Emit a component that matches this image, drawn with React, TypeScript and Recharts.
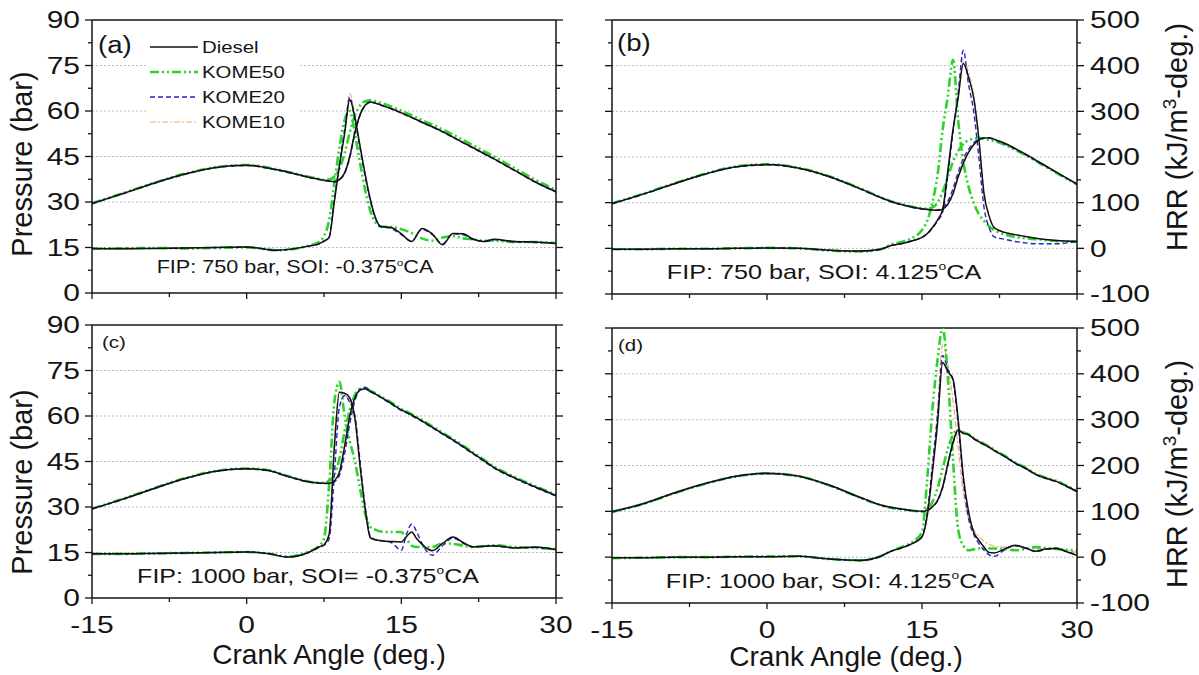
import React from "react";
import { LineChart, Line, XAxis, YAxis, ReferenceLine, Legend } from "recharts";

const FONT = '"Liberation Sans", Arial, Helvetica, sans-serif';
const INK = "#151515";

// axis ticks
const xTicks = [-15, -7.5, 0, 7.5, 15, 22.5, 30];
const pTicks = [0, 7.5, 15, 22.5, 30, 37.5, 45, 52.5, 60, 67.5, 75, 82.5, 90];
const hTicks = [-100, -50, 0, 50, 100, 150, 200, 250, 300, 350, 400, 450, 500];
const gridLevels = [15, 30, 45, 60, 75];

// (a) FIP 750 bar, SOI -0.375
const angleA = [-15, -12, -9, -6, -3, 0, 3, 6, 7, 7.5, 8, 8.5, 9, 9.5, 10, 10.5, 11, 11.5, 12, 12.5, 13, 14, 15, 16, 17, 18, 19, 20, 21, 22, 23, 24, 26, 28, 30];
const pDieselA = [29.5, 32.8, 36.2, 39.2, 41.4, 42.1, 40.6, 38.2, 37.5, 37.2, 36.9, 36.7, 37.4, 39.6, 45, 53, 58.8, 62, 63, 62.6, 62, 60.8, 59.4, 57.9, 56.3, 54.8, 53.2, 51.4, 49.6, 47.8, 46, 44.2, 40.4, 36.6, 33.4];
const pK50A = [29.6, 32.9, 36.3, 39.3, 41.5, 42.2, 40.7, 38.3, 37.6, 37.3, 37.4, 38.4, 41, 46, 53, 58.5, 61.8, 63.2, 63.5, 63.2, 62.7, 61.5, 60.1, 58.6, 57, 55.5, 53.9, 52.2, 50.4, 48.6, 46.8, 45, 41.1, 37.3, 34];
const pK20A = [29.4, 32.7, 36.1, 39.1, 41.3, 42, 40.5, 38.1, 37.4, 37.1, 36.8, 36.6, 37.3, 39.4, 44.6, 52.6, 58.6, 61.8, 62.9, 62.5, 61.9, 60.7, 59.3, 57.8, 56.2, 54.7, 53.1, 51.3, 49.5, 47.7, 45.9, 44.1, 40.3, 36.5, 33.3];
const pK10A = [29.6, 32.9, 36.3, 39.3, 41.5, 42.3, 40.7, 38.3, 37.6, 37.3, 37, 36.8, 37.6, 39.9, 45.5, 53.4, 59.1, 62.2, 63.2, 62.8, 62.2, 61, 59.6, 58.1, 56.5, 55, 53.4, 51.6, 49.8, 48, 46.2, 44.4, 40.6, 36.8, 33.6];
const hDieselA = [-2, -3, -2, -1, 0, 1, -6, 3, 8, 14, 22, 100, 180, 250, 325, 285, 222, 160, 105, 65, 46, 44, 30, 13, 42, 30, 6, 31, 30, 18, 13, 18, 13, 12, 9];
const hK50A = [-3, -2, -1, -2, -1, 0, -6, 4, 12, 25, 60, 140, 220, 280, 300, 250, 185, 125, 80, 55, 46, 45, 40, 32, 20, 15, 22, 25, 20, 18, 15, 15, 12, 12, 10];
const hK20A = [-2, -2, -2, -1, 0, 1, -6, 3, 8, 14, 24, 105, 185, 258, 330, 280, 218, 155, 102, 63, 46, 42, 28, 14, 40, 28, 8, 30, 28, 17, 14, 17, 12, 11, 9];
const hK10A = [-2, -3, -2, -1, 0, 1, -5, 3, 8, 15, 23, 102, 184, 255, 338, 290, 225, 162, 106, 66, 47, 45, 31, 14, 41, 31, 7, 31, 30, 19, 13, 18, 13, 12, 9];

// (b) FIP 750 bar, SOI 4.125
const angleB = [-15, -12, -9, -6, -3, 0, 3, 6, 9, 11, 12, 13, 14, 15, 15.5, 16, 16.5, 17, 17.5, 18, 18.5, 19, 19.5, 20, 20.5, 21, 21.5, 22, 23, 24, 25, 26, 28, 30];
const pDieselB = [29.7, 32.8, 36.2, 39.4, 41.8, 42.5, 41.4, 38.6, 34.6, 31.7, 30.4, 29.4, 28.6, 28, 27.8, 27.6, 27.5, 27.9, 29.5, 33, 38.5, 43, 46.5, 49, 50.6, 51.2, 51.3, 50.8, 49.5, 47.8, 46, 44, 40, 36.1];
const pK50B = [29.8, 32.9, 36.3, 39.5, 41.9, 42.6, 41.5, 38.7, 34.7, 31.8, 30.5, 29.5, 28.7, 28.1, 28, 28.4, 30, 33.5, 38.5, 43.5, 47, 49.3, 50.5, 51, 51.2, 51, 50.6, 50.2, 49, 47.4, 45.6, 43.7, 39.8, 36];
const pK20B = [29.6, 32.7, 36.1, 39.3, 41.7, 42.4, 41.3, 38.5, 34.5, 31.6, 30.3, 29.3, 28.5, 27.9, 27.7, 27.5, 27.6, 28.3, 30.5, 34.5, 40, 44.5, 47.5, 49.6, 50.8, 51.3, 51.2, 50.6, 49.3, 47.6, 45.8, 43.9, 39.9, 36];
const pK10B = [29.7, 32.8, 36.2, 39.4, 41.8, 42.5, 41.4, 38.6, 34.6, 31.7, 30.4, 29.4, 28.6, 28, 27.8, 27.6, 27.5, 27.8, 29.2, 32.5, 38, 42.6, 46.2, 48.8, 50.5, 51.3, 51.4, 50.9, 49.6, 47.9, 46.1, 44.1, 40.1, 36.2];
const hDieselB = [-2, -2, -1, -1, 0, 1, 0, -4, -6, -2, 6, 10, 16, 24, 32, 45, 62, 85, 170, 260, 330, 405, 375, 330, 240, 120, 70, 45, 35, 30, 26, 22, 17, 15];
const hK50B = [-2, -2, -1, -1, 0, 1, 0, -5, -7, -2, 8, 14, 22, 40, 60, 100, 160, 260, 333, 413, 280, 190, 135, 100, 75, 60, 48, 40, 30, 25, 22, 20, 16, 15];
const hK20B = [-2, -2, -1, -1, 0, 1, 0, -4, -6, -2, 6, 10, 16, 24, 32, 44, 60, 80, 160, 255, 340, 434, 360, 300, 200, 90, 45, 25, 20, 15, 12, 10, 10, 15];
const hK10B = [-2, -2, -1, -1, 0, 1, 0, -4, -6, -2, 6, 11, 17, 25, 33, 46, 63, 86, 165, 255, 330, 412, 385, 335, 245, 125, 72, 46, 36, 30, 26, 22, 17, 16];

// (c) FIP 1000 bar, SOI -0.375
const angleC = [-15, -12, -9, -6, -3, 0, 2, 4, 6, 7, 7.5, 8, 8.5, 9, 9.5, 10, 10.5, 11, 11.5, 12, 12.5, 13, 14, 15, 15.5, 16, 16.5, 17, 18, 19, 20, 21, 22, 23, 24, 26, 28, 30];
const pDieselC = [29.4, 32.6, 36.1, 39.4, 41.8, 42.6, 42.1, 40.1, 38.3, 37.9, 37.8, 37.8, 38.6, 41.5, 50, 60, 66, 68.5, 69, 68, 67.2, 66.2, 64.2, 62, 61.2, 60.3, 59.4, 58.4, 56.3, 54.2, 52.1, 49.9, 47.6, 45.3, 43, 39.6, 36.6, 33.8];
const pK50C = [29.5, 32.7, 36.2, 39.5, 41.9, 42.7, 42.2, 40.2, 38.4, 38, 38, 38.6, 40.5, 46, 55, 62, 67, 69, 69.2, 68.3, 67.5, 66.5, 64.5, 62.3, 61.5, 60.6, 59.7, 58.7, 56.6, 54.5, 52.4, 50.2, 47.9, 45.6, 43.3, 39.9, 36.9, 34];
const pK20C = [29.3, 32.5, 36, 39.3, 41.7, 42.5, 42, 40, 38.2, 37.8, 37.7, 37.7, 38.3, 40.5, 47.5, 57.5, 65, 68.8, 69.5, 68.3, 67.3, 66.1, 64, 61.8, 61, 60.1, 59.2, 58.2, 56.1, 54, 51.9, 49.7, 47.4, 45.1, 42.8, 39.4, 36.4, 33.6];
const pK10C = [29.4, 32.6, 36.1, 39.4, 41.8, 42.6, 42.1, 40.1, 38.3, 37.9, 37.8, 37.9, 38.8, 42, 51, 60.5, 66.2, 68.6, 68.9, 68, 67.2, 66.2, 64.2, 62, 61.2, 60.3, 59.4, 58.4, 56.3, 54.2, 52.1, 49.9, 47.6, 45.3, 43, 39.6, 36.6, 33.8];
const hDieselC = [-3, -3, -2, -1, 0, 1, -2, -10, 0, 12, 17, 40, 230, 352, 350, 340, 295, 190, 95, 32, 28, 26, 24, 23, 35, 45, 30, 18, 4, 20, 34, 22, 12, 14, 15, 10, 12, 6];
const hK50C = [-3, -3, -2, -1, 0, 1, -2, -9, 2, 14, 30, 150, 330, 375, 300, 245, 200, 140, 85, 56, 50, 46, 45, 45, 30, 15, 12, 12, 12, 20, 19, 15, 12, 14, 16, 12, 10, 8];
const hK20C = [-3, -3, -2, -1, 0, 1, -2, -10, 0, 11, 16, 30, 170, 320, 345, 330, 300, 200, 100, 35, 28, 26, 22, 5, 40, 62, 45, 20, -6, 15, 32, 20, 12, 14, 14, 10, 11, 6];
const hK10C = [-3, -3, -2, -1, 0, 1, -2, -10, 1, 12, 18, 45, 245, 355, 345, 335, 290, 185, 95, 35, 30, 27, 25, 24, 34, 44, 30, 19, 5, 21, 33, 22, 13, 14, 15, 11, 12, 7];

// (d) FIP 1000 bar, SOI 4.125
const angleD = [-15, -12, -9, -6, -3, 0, 3, 6, 9, 11, 12, 13, 14, 15, 15.5, 16, 16.5, 17, 17.5, 18, 18.5, 19, 19.5, 20, 20.5, 21, 21.5, 22, 23, 24, 25, 26, 27, 28, 29, 30];
const pDieselD = [29.9, 32.5, 36, 39.1, 41.5, 42.5, 41.6, 38.6, 34.6, 32.1, 31.3, 30.8, 30.3, 30, 30.3, 31.5, 33.5, 38, 45.5, 52.5, 56.6, 55.5, 55.1, 53.8, 52.8, 51.9, 51, 49.9, 48, 45.8, 44.1, 42.1, 40.8, 39.8, 38.2, 36.5];
const pK50D = [29.8, 32.4, 35.9, 39, 41.4, 42.4, 41.5, 38.5, 34.5, 32, 31.2, 30.7, 30.2, 30, 30.8, 33, 37.5, 44, 50.5, 55, 56.8, 55.8, 55.3, 54, 53, 52.1, 51.2, 50.1, 48.2, 46, 44.3, 42.3, 41, 40, 38.4, 36.7];
const pK20D = [29.8, 32.4, 35.9, 39, 41.4, 42.3, 41.5, 38.5, 34.5, 32, 31.2, 30.7, 30.2, 29.9, 30.2, 31.4, 33.3, 37.6, 45, 52.2, 56.5, 55.6, 55, 53.7, 52.7, 51.8, 50.9, 49.8, 47.9, 45.7, 44, 42, 40.7, 39.7, 38.1, 36.4];
const pK10D = [30, 32.6, 36.1, 39.2, 41.6, 42.6, 41.7, 38.7, 34.7, 32.2, 31.4, 30.9, 30.4, 30.1, 30.4, 31.6, 33.8, 38.5, 46, 53, 57, 55.8, 55.3, 54, 53, 52.1, 51.2, 50.1, 48.2, 46, 44.3, 42.3, 41, 40, 38.4, 36.7];
const hDieselD = [-1, -1, 0, 0, 1, 1, 2, -4, -7, 2, 13, 20, 29, 44, 90, 185, 290, 425, 405, 388, 300, 176, 100, 55, 37, 22, 10, 9, 18, 26, 20, 13, 18, 19, 12, 4];
const hK50D = [-2, -1, 0, 0, 1, 2, 2, -4, -7, 2, 13, 22, 32, 55, 170, 320, 430, 500, 394, 212, 60, 25, 15, 17, 19, 19, 19, 19, 18, 15, 18, 22, 20, 18, 16, 14];
const hK20D = [-1, -1, 0, 0, 1, 1, 2, -4, -7, 2, 13, 20, 29, 45, 95, 200, 310, 440, 410, 385, 290, 165, 85, 50, 30, 15, 5, 2, 16, 25, 20, 12, 17, 20, 12, 6];
const hK10D = [-1, -1, 0, 0, 1, 1, 2, -4, -7, 2, 13, 21, 30, 46, 85, 180, 320, 465, 420, 340, 240, 140, 85, 60, 45, 35, 28, 24, 22, 24, 20, 18, 20, 20, 15, 10];

type Fuel = { key: string; name: string; color: string; width: number; dash?: string };

const fuels: Fuel[] = [
  { key: "diesel", name: "Diesel", color: "#111111", width: 1.5 },
  { key: "k50", name: "KOME50", color: "#2bd42b", width: 2.6, dash: "9 3 2 3 2 3" },
  { key: "k20", name: "KOME20", color: "#2424c4", width: 1.4, dash: "5 3" },
  { key: "k10", name: "KOME10", color: "#f3aa74", width: 1.2, dash: "6 2 2 2" },
];
const drawOrder = ["k10", "k50", "k20", "diesel"];

function buildRows(angle: number[], p: Record<string, number[]>, h: Record<string, number[]>) {
  return angle.map((a, i) => {
    const row: Record<string, number> = { a };
    fuels.forEach((f) => {
      row["p_" + f.key] = p[f.key][i];
      row["h_" + f.key] = h[f.key][i];
    });
    return row;
  });
}

const TICK_FS = 24;
const TICK_STRETCH = 1.25;

function YTick(props: any) {
  const { x, y, payload, side, labels, step } = props;
  const v = payload.value;
  const major = Math.abs(v / step - Math.round(v / step)) < 1e-6;
  const d = side === "left" ? -1 : 1;
  return (
    <g>
      <line x1={x} y1={y} x2={x + d * (major ? 7 : 4)} y2={y} stroke={INK} strokeWidth={1.3} />
      {labels && major ? (
        <text
          transform={`translate(${x + (side === "left" ? -12 : 13)},${y}) scale(${TICK_STRETCH},1)`}
          textAnchor={side === "left" ? "end" : "start"}
          dominantBaseline="central"
          fontSize={TICK_FS}
          fontFamily={FONT}
          fill={INK}
        >
          {v}
        </text>
      ) : null}
    </g>
  );
}

function XTick(props: any) {
  const { x, y, payload, labels } = props;
  const v = payload.value;
  const major = v % 15 === 0;
  return (
    <g>
      <line x1={x} y1={y} x2={x} y2={y + (major ? 6 : 4)} stroke={INK} strokeWidth={1.3} />
      {labels && major ? (
        <text
          transform={`translate(${x},${y + 27}) scale(${TICK_STRETCH},1)`}
          textAnchor="middle"
          dominantBaseline="central"
          fontSize={TICK_FS}
          fontFamily={FONT}
          fill={INK}
        >
          {v}
        </text>
      ) : null}
    </g>
  );
}

function LegendBox() {
  return (
    <svg width={150} height={104} style={{ display: "block" }}>
      <rect x={0} y={0} width={150} height={104} fill="#ffffff" />
      {fuels.map((f, i) => {
        const y = 17 + i * 25;
        return (
          <g key={f.key}>
            <line x1={2} x2={50} y1={y} y2={y} stroke={f.color} strokeWidth={f.width} strokeDasharray={f.dash} />
            <text
              transform={`translate(54,${y}) scale(1.2,1)`}
              dominantBaseline="central"
              fontSize={17}
              fontFamily={FONT}
              fill={INK}
            >
              {f.name}
            </text>
          </g>
        );
      })}
    </svg>
  );
}

type PanelProps = {
  rows: Record<string, number>[];
  left: number;
  top: number;
  width: number;
  height: number;
  yLeftW: number;
  yRightW: number;
  xH: number;
  pLabels: boolean;
  hLabels: boolean;
  xLabels: boolean;
  legend?: boolean;
};

function Panel({ rows, left, top, width, height, yLeftW, yRightW, xH, pLabels, hLabels, xLabels, legend }: PanelProps) {
  const lines = drawOrder.flatMap((k) => {
    const f = fuels.find((q) => q.key === k)!;
    return [
      <Line
        key={"p" + k}
        yAxisId="p"
        type="monotone"
        dataKey={"p_" + k}
        name={f.name}
        stroke={f.color}
        strokeWidth={f.width}
        strokeDasharray={f.dash}
        dot={false}
        activeDot={false}
        isAnimationActive={false}
      />,
      <Line
        key={"h" + k}
        yAxisId="h"
        type="monotone"
        dataKey={"h_" + k}
        name={f.name + " HRR"}
        stroke={f.color}
        strokeWidth={f.width}
        strokeDasharray={f.dash}
        dot={false}
        activeDot={false}
        isAnimationActive={false}
        legendType="none"
      />,
    ];
  });
  return (
    <div style={{ position: "absolute", left, top }}>
      <LineChart width={width} height={height} data={rows} margin={{ top: 20, right: 0, bottom: 0, left: 0 }}>
        <XAxis
          dataKey="a"
          type="number"
          domain={[-15, 30]}
          ticks={xTicks}
          interval={0}
          height={xH}
          tickSize={0}
          tickMargin={0}
          tickLine={false}
          allowDataOverflow
          axisLine={{ stroke: INK, strokeWidth: 1.5 }}
          tick={(t: any) => <XTick {...t} labels={xLabels} />}
        />
        <YAxis
          yAxisId="p"
          orientation="left"
          type="number"
          domain={[0, 90]}
          ticks={pTicks}
          interval={0}
          width={yLeftW}
          tickSize={0}
          tickMargin={0}
          tickLine={false}
          allowDataOverflow
          axisLine={{ stroke: INK, strokeWidth: 1.5 }}
          tick={(t: any) => <YTick {...t} side="left" labels={pLabels} step={15} />}
        />
        <YAxis
          yAxisId="h"
          orientation="right"
          type="number"
          domain={[-100, 500]}
          ticks={hTicks}
          interval={0}
          width={yRightW}
          tickSize={0}
          tickMargin={0}
          tickLine={false}
          allowDataOverflow
          axisLine={{ stroke: INK, strokeWidth: 1.5 }}
          tick={(t: any) => <YTick {...t} side="right" labels={hLabels} step={100} />}
        />
        {gridLevels.map((v) => (
          <ReferenceLine key={v} yAxisId="p" y={v} stroke="#b9b9b9" strokeDasharray="2 2" strokeWidth={1} />
        ))}
        <ReferenceLine yAxisId="p" y={90} stroke={INK} strokeWidth={1.5} />
        {lines}
        {legend ? (
          <Legend
            layout="horizontal"
            verticalAlign="middle"
            align="center"
            wrapperStyle={{ left: 148, top: 30, width: 150, height: 104 }}
            content={() => <LegendBox />}
          />
        ) : null}
      </LineChart>
    </div>
  );
}

const rowsA = buildRows(angleA, { diesel: pDieselA, k50: pK50A, k20: pK20A, k10: pK10A }, { diesel: hDieselA, k50: hK50A, k20: hK20A, k10: hK10A });
const rowsB = buildRows(angleB, { diesel: pDieselB, k50: pK50B, k20: pK20B, k10: pK10B }, { diesel: hDieselB, k50: hK50B, k20: hK20B, k10: hK10B });
const rowsC = buildRows(angleC, { diesel: pDieselC, k50: pK50C, k20: pK20C, k10: pK10C }, { diesel: hDieselC, k50: hK50C, k20: hK20C, k10: hK10C });
const rowsD = buildRows(angleD, { diesel: pDieselD, k50: pK50D, k20: pK20D, k10: pK10D }, { diesel: hDieselD, k50: hK50D, k20: hK20D, k10: hK10D });

const textBase: React.CSSProperties = {
  position: "absolute",
  fontFamily: FONT,
  color: INK,
  lineHeight: 1,
  whiteSpace: "nowrap",
};

function Centered({ x, y, size, rotate, stretch, children }: { x: number; y: number; size: number; rotate?: boolean; stretch?: number; children: React.ReactNode }) {
  const t = rotate ? "translate(-50%,-50%) rotate(-90deg)" : `translate(-50%,-50%) scaleX(${stretch ?? 1})`;
  return <div style={{ ...textBase, left: x, top: y, fontSize: size, transform: t, transformOrigin: "center" }}>{children}</div>;
}

function Tag({ x, y, size, children }: { x: number; y: number; size: number; children: React.ReactNode }) {
  return (
    <div style={{ ...textBase, left: x, top: y, fontSize: size, transform: "translateY(-50%) scaleX(1.2)", transformOrigin: "left center" }}>
      {children}
    </div>
  );
}

const Deg = () => <span style={{ fontSize: "0.55em", position: "relative", top: "-0.75em" }}>o</span>;

export default function App() {
  return (
    <div style={{ position: "absolute", left: 0, top: 0, width: 1199, height: 675, background: "#ffffff", overflow: "hidden" }}>
      <Panel rows={rowsA} left={0} top={0} width={600} height={313} yLeftW={92} yRightW={44} xH={20} pLabels hLabels={false} xLabels={false} legend />
      <Panel rows={rowsB} left={560} top={0} width={639} height={314} yLeftW={52} yRightW={122} xH={20} pLabels={false} hLabels xLabels={false} />
      <Panel rows={rowsC} left={0} top={305} width={600} height={365} yLeftW={92} yRightW={44} xH={72} pLabels hLabels={false} xLabels />
      <Panel rows={rowsD} left={560} top={308} width={639} height={367} yLeftW={52} yRightW={122} xH={72} pLabels={false} hLabels xLabels />

      <Centered x={22} y={164} size={29} rotate>Pressure (bar)</Centered>
      <Centered x={22} y={482} size={29} rotate>Pressure (bar)</Centered>
      <Centered x={1177} y={137} size={29} rotate>
        HRR (kJ/m<span style={{ fontSize: 19, position: "relative", top: -11 }}>3</span>-deg.)
      </Centered>
      <Centered x={1177} y={474} size={29} rotate>
        HRR (kJ/m<span style={{ fontSize: 19, position: "relative", top: -11 }}>3</span>-deg.)
      </Centered>
      <Centered x={329} y={655} size={28}>Crank Angle (deg.)</Centered>
      <Centered x={846} y={657} size={28}>Crank Angle (deg.)</Centered>

      <Tag x={98} y={45} size={23}>(a)</Tag>
      <Tag x={617} y={43} size={23}>(b)</Tag>
      <Tag x={102} y={342} size={17}>(c)</Tag>
      <Tag x={618} y={345} size={17}>(d)</Tag>

      <Centered x={295} y={267} size={18} stretch={1.2}>FIP: 750 bar, SOI: -0.375<Deg />CA</Centered>
      <Centered x={824} y={271} size={21} stretch={1.2}>FIP: 750 bar, SOI: 4.125<Deg />CA</Centered>
      <Centered x={308} y={575} size={21} stretch={1.19}>FIP: 1000 bar, SOI= -0.375<Deg />CA</Centered>
      <Centered x={830} y={580} size={21} stretch={1.2}>FIP: 1000 bar, SOI: 4.125<Deg />CA</Centered>
    </div>
  );
}
